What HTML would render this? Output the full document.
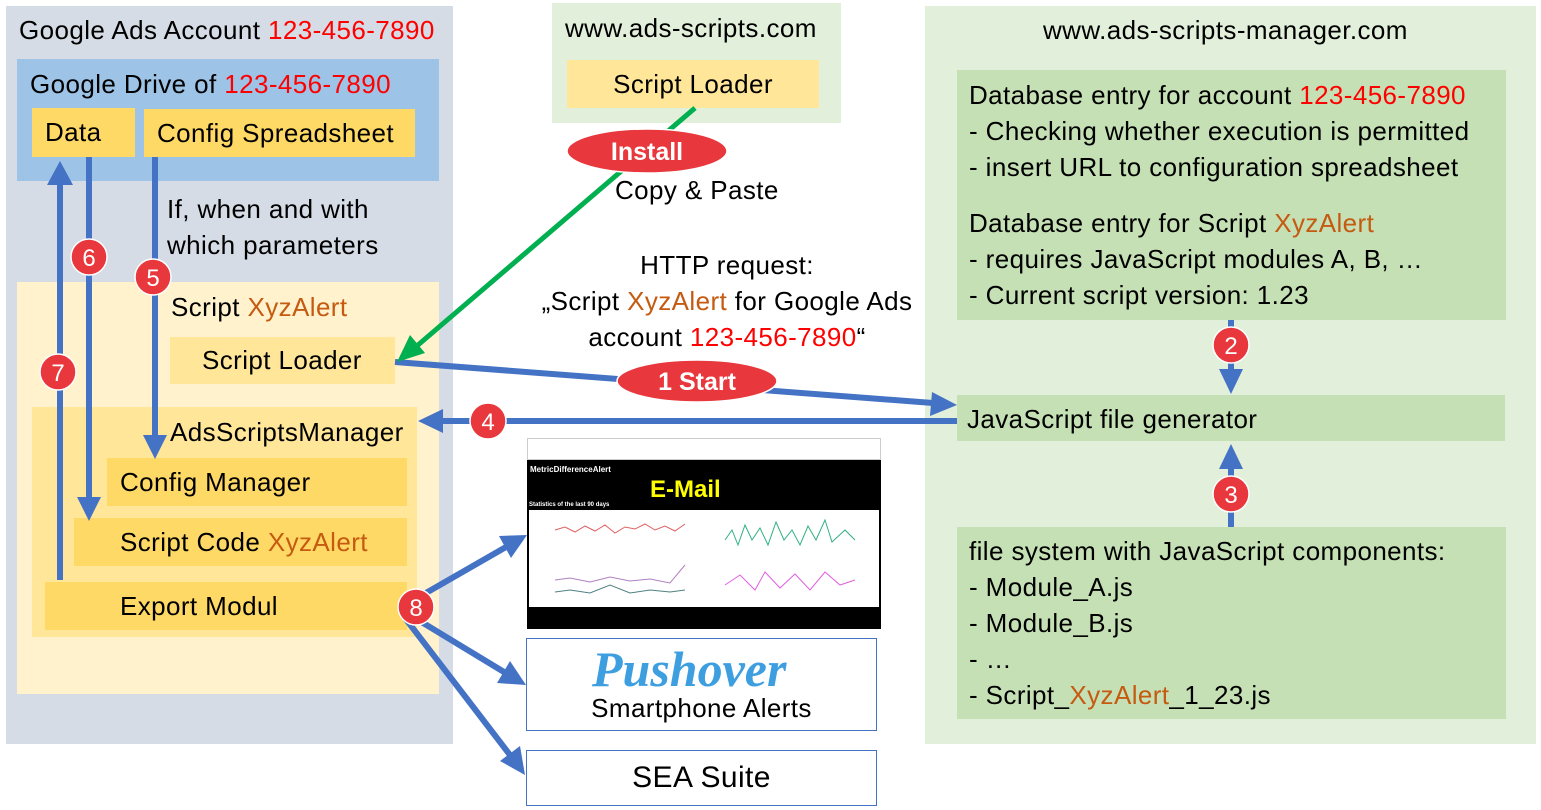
<!DOCTYPE html>
<html><head><meta charset="utf-8"><style>
body{margin:0;width:1541px;height:810px;background:#fff;position:relative;overflow:hidden;font-family:"Liberation Sans","DejaVu Sans",sans-serif;color:#000}
.a{position:absolute}
.t{position:absolute;font-size:26px;white-space:nowrap;line-height:36px;letter-spacing:0.4px}
.r{color:#ff0000}.o{color:#c55a11}
.bx{position:absolute;font-size:26px;display:flex;align-items:center;box-sizing:border-box;white-space:nowrap;letter-spacing:0.4px}
</style></head><body>
<div class="a" style="left:6px;top:6px;width:447px;height:738px;background:#d6dce5"></div>
<div class="a" style="left:17px;top:59px;width:422px;height:122px;background:#9dc3e6"></div>
<div class="a" style="left:17px;top:282px;width:422px;height:412px;background:#fff2cc"></div>
<div class="a" style="left:32px;top:407px;width:385px;height:230px;background:#ffe699"></div>
<div class="a" style="left:552px;top:3px;width:289px;height:120px;background:#e2efda"></div>
<div class="a" style="left:925px;top:6px;width:611px;height:738px;background:#e2efda"></div>
<div class="a" style="left:957px;top:70px;width:549px;height:250px;background:#c5e0b4"></div>
<div class="a" style="left:957px;top:395px;width:548px;height:46px;background:#c5e0b4"></div>
<div class="a" style="left:957px;top:527px;width:549px;height:192px;background:#c5e0b4"></div>

<div class="t" style="left:19px;top:12px">Google Ads Account <span class="r">123-456-7890</span></div>
<div class="t" style="left:30px;top:66px">Google Drive of <span class="r">123-456-7890</span></div>
<div class="bx" style="left:32px;top:108px;width:103px;height:49px;background:#ffd966;padding-left:13px">Data</div>
<div class="bx" style="left:144px;top:109px;width:271px;height:48px;background:#ffd966;padding-left:13px">Config Spreadsheet</div>
<div class="t" style="left:167px;top:191px">If, when and with<br>which parameters</div>
<div class="t" style="left:171px;top:289px">Script <span class="o">XyzAlert</span></div>
<div class="bx" style="left:170px;top:337px;width:225px;height:47px;background:#ffe699;padding-left:32px">Script Loader</div>
<div class="t" style="left:170px;top:414px">AdsScriptsManager</div>
<div class="bx" style="left:107px;top:458px;width:300px;height:48px;background:#ffd966;padding-left:13px">Config Manager</div>
<div class="bx" style="left:74px;top:518px;width:333px;height:48px;background:#ffd966;padding-left:46px">Script Code&nbsp;<span class="o">XyzAlert</span></div>
<div class="bx" style="left:45px;top:582px;width:362px;height:48px;background:#ffd966;padding-left:75px">Export Modul</div>

<div class="t" style="left:565px;top:10px">www.ads-scripts.com</div>
<div class="bx" style="left:567px;top:60px;width:252px;height:48px;background:#ffe699;justify-content:center">Script Loader</div>
<div class="t" style="left:615px;top:172px">Copy &amp; Paste</div>
<div class="t" style="left:500px;top:247px;width:454px;text-align:center">HTTP request:<br>„Script <span class="o">XyzAlert</span> for Google Ads<br>account <span class="r">123-456-7890</span>“</div>

<div class="t" style="left:1043px;top:12px">www.ads-scripts-manager.com</div>
<div class="t" style="left:969px;top:77px">Database entry for account <span class="r">123-456-7890</span><br>- Checking whether execution is permitted<br>- insert URL to configuration spreadsheet</div>
<div class="t" style="left:969px;top:205px">Database entry for Script <span class="o">XyzAlert</span><br>- requires JavaScript modules A, B, …<br>- Current script version: 1.23</div>
<div class="t" style="left:967px;top:401px">JavaScript file generator</div>
<div class="t" style="left:969px;top:533px">file system with JavaScript components:<br>- Module_A.js<br>- Module_B.js<br>- …<br>- Script_<span class="o">XyzAlert</span>_1_23.js</div>

<!-- email -->
<div class="a" style="left:527px;top:438px;width:354px;height:191px;background:#000"></div>
<div class="a" style="left:527px;top:438px;width:354px;height:22px;background:#fff;border:1px solid #ccc;box-sizing:border-box"></div>
<div class="a" style="left:530px;top:465px;font-size:8px;color:#fff;font-weight:bold">MetricDifferenceAlert</div>
<div class="a" style="left:529px;top:502px;font-size:6px;color:#fff;font-weight:bold">Statistics of the last 90 days</div>
<div class="a" style="left:529px;top:510px;width:350px;height:97px;background:#fff"></div>
<div class="a" style="left:650px;top:478px;color:#ffff00;font-weight:bold;font-size:24px;line-height:1">E-Mail</div>
<svg class="a" style="left:0;top:0" width="1541" height="810">
<g fill="none" stroke-width="1">
<polyline stroke="#e06060" points="555,530 565,527 575,532 585,526 595,531 605,525 615,533 625,527 635,529 645,524 655,530 665,526 675,531 685,524"/>
<polyline stroke="#30b080" points="725,540 732,530 738,545 745,525 752,540 760,528 768,545 776,522 784,540 792,530 800,545 808,526 816,540 825,520 832,542 845,530 855,540"/>
<polyline stroke="#b080c0" points="555,580 570,578 590,582 610,577 630,581 650,579 670,583 685,565"/>
<polyline stroke="#508080" points="555,592 570,590 590,593 610,585 630,593 650,590 670,592 685,590"/>
<polyline stroke="#e060e0" points="725,585 740,575 755,590 765,572 780,588 795,574 810,590 825,572 840,585 855,580"/>
</g>
<g stroke="#4472c4" stroke-width="6" fill="#4472c4">
<line x1="60" y1="580" x2="60" y2="185"/><polygon points="47,185 73,185 60,161" stroke="none"/>
<line x1="89" y1="157" x2="89" y2="497"/><polygon points="77,497 101,497 89,521" stroke="none"/>
<line x1="155" y1="157" x2="155" y2="435"/><polygon points="143,435 167,435 155,459" stroke="none"/>
<line x1="395" y1="362" x2="933" y2="403"/><polygon points="932,392 957,405 930,416" stroke="none"/>
<line x1="957" y1="421" x2="442" y2="421"/><polygon points="443,409 443,433 418,421" stroke="none"/>
<line x1="1231" y1="320" x2="1231" y2="371"/><polygon points="1219,369 1243,369 1231,394" stroke="none"/>
<line x1="1231" y1="527" x2="1231" y2="467"/><polygon points="1219,469 1243,469 1231,444" stroke="none"/>
<line x1="405" y1="605" x2="506" y2="547"/><polygon points="499,536 527,535 511,558" stroke="none"/>
<line x1="405" y1="612" x2="504" y2="672"/><polygon points="510,661 526,685 497,683" stroke="none"/>
<line x1="405" y1="618" x2="510" y2="755"/><polygon points="520,746 525,775 500,761" stroke="none"/>
</g>
<g stroke="#00b050" stroke-width="5" fill="#00b050">
<line x1="695" y1="108" x2="418" y2="345"/><polygon points="410,335 425,353 397,362" stroke="none"/>
</g>
<g fill="#e8383d" stroke="#fff" stroke-width="1.5">
<ellipse cx="647" cy="151" rx="80" ry="22"/><ellipse cx="697" cy="381" rx="80" ry="21"/>
<circle cx="89" cy="257" r="18"/><circle cx="153" cy="277" r="18"/><circle cx="58" cy="372" r="18"/>
<circle cx="488" cy="421" r="18"/><circle cx="1231" cy="345" r="18"/><circle cx="1231" cy="494" r="18"/><circle cx="416" cy="607" r="18"/>
</g>
<g fill="#fff" font-family="Liberation Sans, sans-serif" font-size="24" text-anchor="middle">
<text x="647" y="160" font-weight="bold" font-size="25">Install</text>
<text x="697" y="390" font-weight="bold" font-size="25">1 Start</text>
<text x="89" y="266">6</text><text x="153" y="286">5</text><text x="58" y="381">7</text>
<text x="488" y="430">4</text><text x="1231" y="354">2</text><text x="1231" y="503">3</text><text x="416" y="616">8</text>
</g>
</svg>
<div class="a" style="left:526px;top:638px;width:351px;height:93px;background:#fff;border:1px solid #4472c4;box-sizing:border-box"></div>
<div class="a" style="left:592px;top:644px;font-size:50px;line-height:1;font-style:italic;font-weight:bold;color:#3e9fe0;font-family:'Liberation Serif',serif;white-space:nowrap">Pushover</div>
<div class="t" style="left:526px;top:690px;width:351px;text-align:center">Smartphone Alerts</div>
<div class="bx" style="left:526px;top:750px;width:351px;height:56px;background:#fff;border:1px solid #4472c4;justify-content:center;font-size:30px">SEA Suite</div>
</body></html>
